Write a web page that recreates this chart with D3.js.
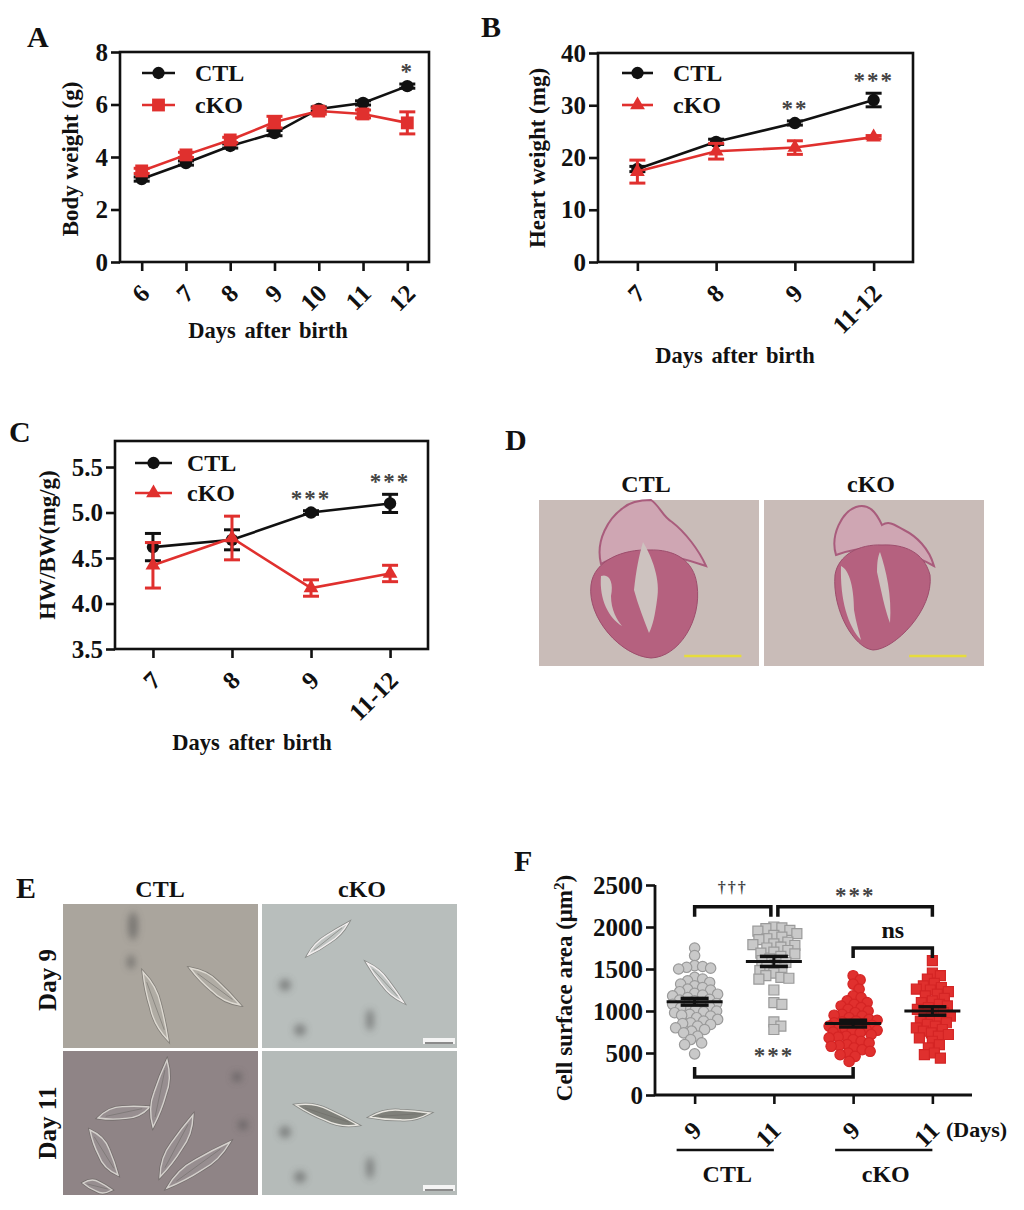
<!DOCTYPE html>
<html>
<head>
<meta charset="utf-8">
<script src="https://cdn.jsdelivr.net/npm/d3@7"></script>
<style>
body { margin: 0; background: #fff; }
text { font-family: "Liberation Serif", "Times New Roman", serif; font-weight: bold; fill: #111; }
</style>
</head>
<body>
<svg id="fig" width="1024" height="1210"></svg>
<script>
const svg = d3.select("#fig");
const INK = "#111";
const RED = "#e0302e";

// ---- A: body weight ----
const daysA = ["6", "7", "8", "9", "10", "11", "12"];
const bodyCtl = [3.16, 3.77, 4.42, 4.91, 5.83, 6.06, 6.70];
const bodyCtlErr = [0.08, 0.08, 0.08, 0.1, 0.08, 0.08, 0.08];
const bodyKo = [3.47, 4.08, 4.65, 5.33, 5.75, 5.64, 5.30];
const bodyKoErr = [0.1, 0.1, 0.1, 0.22, 0.12, 0.15, 0.42];
const starsA = ["", "", "", "", "", "", "*"];

// ---- B: heart weight ----
const daysBC = ["7", "8", "9", "11-12"];
const heartCtl = [17.8, 23.0, 26.6, 31.0];
const heartCtlErr = [0.5, 0.5, 0.4, 1.3];
const heartKo = [17.3, 21.2, 21.9, 23.9];
const heartKoErr = [2.2, 1.5, 1.3, 0.3];
const starsB = ["", "", "**", "***"];

// ---- C: HW/BW ----
const ratioCtl = [4.62, 4.70, 5.00, 5.10];
const ratioCtlErr = [0.15, 0.11, 0.02, 0.10];
const ratioKo = [4.42, 4.72, 4.17, 4.33];
const ratioKoErr = [0.25, 0.24, 0.09, 0.09];
const starsC = ["", "", "***", "***"];

// ---- F: cell surface area ----
const groups = ["CTL 9", "CTL 11", "cKO 9", "cKO 11"];
const groupTicks = ["9", "11", "9", "11"];
const areaCtl9 = [1750, 1660, 1540, 1530, 1520, 1510, 1500, 1400, 1380, 1360, 1340, 1320, 1300, 1280,
  1260, 1250, 1230, 1210, 1200, 1190, 1180, 1160, 1140, 1130, 1120, 1100, 1090, 1080, 1060, 1050,
  1040, 1020, 1000, 990, 980, 960, 950, 940, 920, 900, 880, 860, 850, 840, 820, 800, 780, 760, 740,
  700, 660, 620, 600, 490];
const areaCtl11 = [2000, 1990, 1980, 1960, 1950, 1920, 1900, 1880, 1860, 1850, 1820, 1800, 1790,
  1780, 1760, 1750, 1720, 1700, 1690, 1680, 1650, 1620, 1600, 1580, 1550, 1520, 1500, 1480, 1450,
  1420, 1400, 1390, 1380, 1250, 1100, 1080, 870, 820, 780];
const areaKo9 = [1420, 1370, 1320, 1260, 1180, 1160, 1120, 1100, 1080, 1060, 1040, 1020, 1000, 980,
  960, 950, 940, 920, 900, 890, 880, 870, 860, 850, 840, 830, 820, 810, 800, 790, 780, 770, 760, 750,
  740, 720, 700, 690, 680, 660, 640, 620, 600, 590, 580, 560, 540, 520, 500, 480, 460, 400];
const areaKo11 = [1600, 1450, 1420, 1380, 1330, 1300, 1280, 1260, 1250, 1230, 1200, 1180, 1150, 1120,
  1100, 1080, 1060, 1040, 1020, 1000, 980, 960, 940, 920, 900, 880, 860, 840, 820, 800, 780, 760, 740,
  720, 700, 680, 640, 600, 560, 500, 480, 440];
const areaMean = [1110, 1590, 850, 1000];
const areaSem = [40, 60, 40, 50];

// ---------------------------------------------------------------
svg.append("defs").append("filter").attr("id", "blur")
  .attr("x", "-150%").attr("y", "-150%").attr("width", "400%").attr("height", "400%")
  .append("feGaussianBlur").attr("stdDeviation", 3.5);

function panelLetter(letter, x, y) {
  svg.append("text").attr("x", x).attr("y", y).attr("font-size", 30).text(letter);
}

function styleAxis(a) {
  a.select(".domain").remove();
  a.selectAll("line").attr("stroke", INK).attr("stroke-width", 2.6);
  a.selectAll("text").attr("font-size", 25).attr("fill", INK);
}

function lineChart(c) {
  const g = svg.append("g");
  const x = d3.scalePoint().domain(c.days).range([c.left, c.right]).padding(c.pad);
  const y = d3.scaleLinear().domain(c.yDomain).range([c.bottom, c.top]);

  const ya = g.append("g").attr("transform", `translate(${c.left},0)`)
    .call(d3.axisLeft(y).tickValues(c.yTicks).tickSize(9).tickPadding(3).tickFormat(c.yFormat));
  const xa = g.append("g").attr("transform", `translate(0,${c.bottom})`)
    .call(d3.axisBottom(x).tickSize(9).tickSizeOuter(0));
  styleAxis(ya);
  styleAxis(xa);
  xa.selectAll("text")
    .attr("y", null).attr("dy", null)
    .attr("text-anchor", "end")
    .attr("transform", "translate(9,33) rotate(-45)");

  g.append("rect")
    .attr("x", c.left).attr("y", c.top)
    .attr("width", c.right - c.left).attr("height", c.bottom - c.top)
    .attr("fill", "none").attr("stroke", INK).attr("stroke-width", 2.6);

  c.series.forEach(s => {
    const pts = c.days.map((d, i) => ({ d, v: s.values[i], e: s.errors[i] }));
    g.append("path").datum(pts)
      .attr("d", d3.line().x(p => x(p.d)).y(p => y(p.v)))
      .attr("fill", "none").attr("stroke", s.color).attr("stroke-width", 2.6);
    const eb = g.append("g").attr("stroke", s.color).attr("stroke-width", 3)
      .selectAll("g").data(pts).join("g");
    eb.append("line")
      .attr("x1", p => x(p.d)).attr("x2", p => x(p.d))
      .attr("y1", p => y(p.v - p.e)).attr("y2", p => y(p.v + p.e));
    [-1, 1].forEach(sign => {
      eb.append("line")
        .attr("x1", p => x(p.d) - 8).attr("x2", p => x(p.d) + 8)
        .attr("y1", p => y(p.v + sign * p.e)).attr("y2", p => y(p.v + sign * p.e));
    });
    g.append("g").selectAll("path").data(pts).join("path")
      .attr("d", d3.symbol(s.shape, s.size))
      .attr("transform", p => `translate(${x(p.d)},${y(p.v)})`)
      .attr("fill", s.color);
  });

  // significance stars above the CTL point
  const ctl = c.series[0];
  g.append("g").selectAll("text").data(c.stars).join("text")
    .attr("x", (t, i) => x(c.days[i]))
    .attr("y", (t, i) => y(ctl.values[i] + ctl.errors[i]) - 5)
    .attr("text-anchor", "middle")
    .attr("font-size", 23).attr("font-weight", "normal")
    .attr("letter-spacing", 2).style("fill", "#444")
    .text(t => t);

  // legend
  c.series.forEach((s, i) => {
    const ly = c.legendY[i];
    const lg = g.append("g");
    lg.append("line").attr("x1", c.legendX[0]).attr("x2", c.legendX[1])
      .attr("y1", ly).attr("y2", ly).attr("stroke", s.color).attr("stroke-width", 2.6);
    lg.append("path").attr("d", d3.symbol(s.shape, s.size))
      .attr("transform", `translate(${(c.legendX[0] + c.legendX[1]) / 2},${ly})`)
      .attr("fill", s.color);
    lg.append("text").attr("x", c.legendX[2]).attr("y", ly + 8)
      .attr("font-size", 24).text(s.name);
  });

  g.append("text")
    .attr("transform", `translate(${c.yLabel[0]},${c.yLabel[1]}) rotate(-90)`)
    .attr("text-anchor", "middle").attr("font-size", 23).text(c.yTitle);
  g.append("text")
    .attr("x", c.xLabel[0]).attr("y", c.xLabel[1])
    .attr("text-anchor", "middle").attr("font-size", 22.5).attr("word-spacing", 3)
    .text("Days after birth");
}

lineChart({
  days: daysA, left: 120, right: 429, top: 52, bottom: 262, pad: 0.49,
  yDomain: [0, 8], yTicks: [0, 2, 4, 6, 8], yFormat: d3.format("d"),
  series: [
    { name: "CTL", values: bodyCtl, errors: bodyCtlErr, color: INK, shape: d3.symbolCircle, size: 120 },
    { name: "cKO", values: bodyKo, errors: bodyKoErr, color: RED, shape: d3.symbolSquare, size: 165 }
  ],
  stars: starsA, legendX: [142, 175, 195], legendY: [73, 105],
  yTitle: "Body weight (g)", yLabel: [78, 159], xLabel: [268, 338]
});

lineChart({
  days: daysBC, left: 598, right: 913, top: 53, bottom: 262, pad: 0.5,
  yDomain: [0, 40], yTicks: [0, 10, 20, 30, 40], yFormat: d3.format("d"),
  series: [
    { name: "CTL", values: heartCtl, errors: heartCtlErr, color: INK, shape: d3.symbolCircle, size: 120 },
    { name: "cKO", values: heartKo, errors: heartKoErr, color: RED, shape: d3.symbolTriangle, size: 95 }
  ],
  stars: starsB, legendX: [622, 653, 673], legendY: [73, 105],
  yTitle: "Heart weight (mg)", yLabel: [545, 158], xLabel: [735, 363]
});

lineChart({
  days: daysBC, left: 115, right: 428, top: 441, bottom: 649, pad: 0.48,
  yDomain: [3.5, 5.786], yTicks: [3.5, 4.0, 4.5, 5.0, 5.5], yFormat: d3.format(".1f"),
  series: [
    { name: "CTL", values: ratioCtl, errors: ratioCtlErr, color: INK, shape: d3.symbolCircle, size: 120 },
    { name: "cKO", values: ratioKo, errors: ratioKoErr, color: RED, shape: d3.symbolTriangle, size: 95 }
  ],
  stars: starsC, legendX: [135, 172, 187], legendY: [463, 493],
  yTitle: "HW/BW(mg/g)", yLabel: [55, 545], xLabel: [252, 750]
});

panelLetter("A", 27, 47);
panelLetter("B", 481, 37);
panelLetter("C", 9, 442);

// ---- D: heart sections ----
const heartPanels = [
  { label: "CTL", x: 539, outer: "M52,85 C48,118 82,156 112,158 C140,157 163,120 158,85 C155,60 135,49 110,50 C85,49 55,60 52,85 Z",
    atria: "M62,64 C56,40 70,18 84,8 C92,1 102,0 112,0 C121,6 123,16 133,22 C146,32 160,50 167,66 C150,60 130,55 110,53 C90,53 72,58 62,64 Z",
    holes: ["M104,42 C113,57 122,80 118,100 C116,115 114,125 110,133 C105,120 99,105 95,90 C97,70 100,56 104,42 Z",
      "M62,76 C70,73 75,82 72,96 C72,110 78,120 83,126 C70,118 60,100 62,76 Z"] },
  { label: "cKO", x: 764, outer: "M71,75 C68,110 90,148 109,150 C130,150 170,110 166,75 C160,52 140,44 118,45 C95,44 74,55 71,75 Z",
    atria: "M72,55 C66,35 78,12 92,7 C105,3 112,12 118,25 C126,20 132,26 140,30 C152,36 165,48 170,66 C150,55 130,48 112,48 C95,48 80,52 72,55 Z",
    holes: ["M116,52 C122,70 128,95 126,123 C121,110 117,90 113,72 C113,62 114,56 116,52 Z",
      "M77,66 C86,70 90,90 90,110 C92,122 95,132 97,140 C84,126 76,100 77,66 Z"] }
];
const dTop = 500, dW = 220, dH = 166;
heartPanels.forEach(p => {
  const g = svg.append("g").attr("transform", `translate(${p.x},${dTop})`);
  g.append("rect").attr("width", dW).attr("height", dH).attr("fill", "#c9bcb8");
  g.append("path").attr("d", p.atria).attr("fill", "#cfa6b3").attr("stroke", "#a95c7c").attr("stroke-width", 2);
  g.append("path").attr("d", p.outer).attr("fill", "#b5617f").attr("stroke", "#9d4d6c").attr("stroke-width", 1);
  p.holes.forEach(h => g.append("path").attr("d", h).attr("fill", "#cdc2bf"));
  g.append("line").attr("x1", dW * 0.66).attr("x2", dW * 0.92).attr("y1", dH * 0.94).attr("y2", dH * 0.94)
    .attr("stroke", "#e6dc3c").attr("stroke-width", 2.5);
  svg.append("text").attr("x", p.x + dW / 2 - 3).attr("y", 492).attr("text-anchor", "middle")
    .attr("font-size", 24).text(p.label);
});
panelLetter("D", 505, 450);

// ---- E: isolated cardiomyocytes ----
const cellPanels = [
  { x: 63, y: 904, bg: "#aaa59d", fill: "#b0aca4", edge: "#dedad2",
    cells: [[80, 68, 105, 136, 9], [127, 64, 177, 101, 9]], spots: [[70, 22, 5, 14], [68, 58, 4, 7]], bar: false },
  { x: 262, y: 904, bg: "#b8bebc", fill: "#c0c4c2", edge: "#f2eeee",
    cells: [[46, 51, 86, 19, 6], [105, 59, 141, 98, 6]], spots: [[23, 81, 6, 6], [108, 116, 4, 11], [38, 126, 6, 6]], bar: true },
  { x: 63, y: 1051, bg: "#8f8486", fill: "#978e90", edge: "#d4d0cc",
    cells: [[27, 79, 55, 124, 10], [35, 67, 87, 56, 10], [90, 76, 104, 9, 10], [97, 126, 130, 64, 10],
      [104, 137, 167, 91, 10], [20, 132, 49, 139, 8]], spots: [[174, 26, 5, 5], [180, 74, 5, 5]], bar: false },
  { x: 262, y: 1051, bg: "#b5bbb9", fill: "#7f807a", edge: "#e8e6e0",
    cells: [[34, 54, 96, 74, 9], [108, 66, 168, 62, 8]], spots: [[23, 81, 6, 6], [108, 117, 4, 11], [38, 126, 6, 6]], bar: true }
];
const eW = 195, eH = 144;
cellPanels.forEach(p => {
  const g = svg.append("g").attr("transform", `translate(${p.x},${p.y})`);
  g.append("rect").attr("width", eW).attr("height", eH).attr("fill", p.bg);
  p.spots.forEach(s => g.append("ellipse").attr("cx", s[0]).attr("cy", s[1]).attr("rx", s[2]).attr("ry", s[3])
    .attr("fill", "#4a4a4a").attr("opacity", 0.5).attr("filter", "url(#blur)"));
  p.cells.forEach(c => {
    const len = Math.hypot(c[2] - c[0], c[3] - c[1]);
    const ang = Math.atan2(c[3] - c[1], c[2] - c[0]) * 180 / Math.PI;
    const w = c[4];
    const tr = `translate(${(c[0] + c[2]) / 2},${(c[1] + c[3]) / 2}) rotate(${ang})`;
    const d = `M${-len / 2},0 Q${-len / 4},${-w * 0.9} 0,${-w * 0.6} Q${len / 4},${-w * 0.4} ${len / 2},0 Q${len / 4},${w * 0.9} 0,${w * 0.6} Q${-len / 4},${w * 0.5} ${-len / 2},0 Z`;
    g.append("path").attr("d", d).attr("transform", tr)
      .attr("fill", "none").attr("stroke", "#5a5854").attr("stroke-width", 3).attr("opacity", 0.5);
    g.append("path").attr("d", d).attr("transform", tr)
      .attr("fill", p.fill).attr("stroke", p.edge).attr("stroke-width", 1.4);
    g.append("line")
      .attr("x1", -len * 0.35).attr("x2", len * 0.35).attr("y1", 0).attr("y2", 0)
      .attr("transform", tr)
      .attr("stroke", "#6c6a66").attr("stroke-width", 0.8).attr("opacity", 0.6);
  });
  if (p.bar) {
    g.append("rect").attr("x", eW - 34).attr("y", eH - 10).attr("width", 32).attr("height", 6).attr("fill", "#f4f4f4");
    g.append("line").attr("x1", eW - 32).attr("x2", eW - 4).attr("y1", eH - 5).attr("y2", eH - 5)
      .attr("stroke", "#222").attr("stroke-width", 1);
  }
});
svg.append("text").attr("x", 160).attr("y", 897).attr("text-anchor", "middle").attr("font-size", 24).text("CTL");
svg.append("text").attr("x", 362).attr("y", 897).attr("text-anchor", "middle").attr("font-size", 24).text("cKO");
svg.append("text").attr("transform", "translate(56,980) rotate(-90)").attr("text-anchor", "middle")
  .attr("font-size", 25).text("Day 9");
svg.append("text").attr("transform", "translate(56,1123) rotate(-90)").attr("text-anchor", "middle")
  .attr("font-size", 25).text("Day 11");
panelLetter("E", 16, 898);

// ---- F: cell surface area scatter ----
const fL = 655, fR = 972, fT = 885, fB = 1095;
const xF = d3.scalePoint().domain(groups).range([fL, fR]).padding(0.5);
const yF = d3.scaleLinear().domain([0, 2500]).range([fB, fT]);
const fg = svg.append("g");

const yaF = fg.append("g").attr("transform", `translate(${fL},0)`)
  .call(d3.axisLeft(yF).tickValues([0, 500, 1000, 1500, 2000, 2500]).tickSize(9).tickPadding(3).tickFormat(d3.format("d")));
styleAxis(yaF);
const xaF = fg.append("g").attr("transform", `translate(0,${fB})`)
  .call(d3.axisBottom(xF).tickSize(9).tickSizeOuter(0).tickFormat((d, i) => groupTicks[i]));
styleAxis(xaF);
xaF.selectAll("text").attr("y", null).attr("dy", null).attr("text-anchor", "end")
  .attr("transform", "translate(8,37) rotate(-45)");
fg.append("line").attr("x1", fL).attr("x2", fL).attr("y1", fT).attr("y2", fB).attr("stroke", INK).attr("stroke-width", 2.8);
fg.append("line").attr("x1", fL).attr("x2", fR).attr("y1", fB).attr("y2", fB).attr("stroke", INK).attr("stroke-width", 2.8);

// simple beeswarm: offset each point sideways until it stops overlapping
function swarm(values, minDist, maxOff) {
  const placed = [];
  values.map(v => ({ v, y: yF(v) })).sort((a, b) => a.y - b.y).forEach(p => {
    let best = 0, bestD = -1;
    for (let k = 0; k <= maxOff * 2; k++) {
      const off = (k % 2 ? 1 : -1) * Math.ceil(k / 2);
      const dmin = d3.min(placed, q => Math.hypot(q.dx - off, q.y - p.y)) ?? Infinity;
      if (dmin >= minDist) { best = off; bestD = dmin; break; }
      if (dmin > bestD) { best = off; bestD = dmin; }
    }
    placed.push({ v: p.v, y: p.y, dx: best });
  });
  return placed;
}

const scatterSets = [
  { data: areaCtl9, shape: d3.symbolCircle, size: 85, fill: "#c9c9c9", stroke: "#9a9a9a" },
  { data: areaCtl11, shape: d3.symbolSquare, size: 100, fill: "#c9c9c9", stroke: "#9a9a9a" },
  { data: areaKo9, shape: d3.symbolCircle, size: 85, fill: RED, stroke: "#d42424" },
  { data: areaKo11, shape: d3.symbolSquare, size: 100, fill: RED, stroke: "#d42424" }
];
scatterSets.forEach((s, i) => {
  const cx = xF(groups[i]);
  fg.append("g").selectAll("path").data(swarm(s.data, 7.5, 24)).join("path")
    .attr("d", d3.symbol(s.shape, s.size))
    .attr("transform", p => `translate(${cx + p.dx},${p.y})`)
    .attr("fill", s.fill).attr("stroke", s.stroke).attr("stroke-width", 1.2);
});

// mean +/- SEM
const ms = fg.append("g").attr("stroke", INK).selectAll("g").data(groups).join("g");
ms.append("line").attr("x1", d => xF(d) - 28).attr("x2", d => xF(d) + 28)
  .attr("y1", (d, i) => yF(areaMean[i])).attr("y2", (d, i) => yF(areaMean[i])).attr("stroke-width", 3);
ms.append("line").attr("x1", d => xF(d)).attr("x2", d => xF(d))
  .attr("y1", (d, i) => yF(areaMean[i] - areaSem[i])).attr("y2", (d, i) => yF(areaMean[i] + areaSem[i]))
  .attr("stroke-width", 3);
[-1, 1].forEach(sign => {
  ms.append("line").attr("x1", d => xF(d) - 14).attr("x2", d => xF(d) + 14)
    .attr("y1", (d, i) => yF(areaMean[i] + sign * areaSem[i])).attr("y2", (d, i) => yF(areaMean[i] + sign * areaSem[i]))
    .attr("stroke-width", 3.5);
});

// comparison brackets
const brackets = [
  { a: "CTL 9", b: "CTL 11", level: 2240, dir: 1, gapA: 0, gapB: -3, label: "†††", size: 16, ly: -14 },
  { a: "CTL 11", b: "cKO 11", level: 2240, dir: 1, gapA: 4, gapB: 0, label: "***", size: 23, ly: -4 },
  { a: "cKO 9", b: "cKO 11", level: 1750, dir: 1, gapA: 0, gapB: 0, label: "ns", size: 24, ly: -10, bold: true },
  { a: "CTL 9", b: "cKO 9", level: 215, dir: -1, gapA: 0, gapB: 0, label: "***", size: 23, ly: -4 }
];
brackets.forEach(b => {
  const x1 = xF(b.a) + b.gapA, x2 = xF(b.b) + b.gapB, yy = yF(b.level);
  fg.append("path")
    .attr("d", `M${x1},${yy + 10 * b.dir} L${x1},${yy} L${x2},${yy} L${x2},${yy + 10 * b.dir}`)
    .attr("fill", "none").attr("stroke", INK).attr("stroke-width", 3.5);
  const t = fg.append("text").attr("x", (x1 + x2) / 2).attr("text-anchor", "middle")
    .attr("y", (b.dir > 0 ? yy : yy - 10) + b.ly)
    .attr("font-size", b.size).text(b.label);
  if (!b.bold) t.attr("font-weight", "normal").attr("letter-spacing", 2).style("fill", "#444");
});

fg.append("text").attr("x", 946).attr("y", 1137).attr("font-size", 22).text("(Days)");
[["CTL 9", "CTL 11", "CTL"], ["cKO 9", "cKO 11", "cKO"]].forEach(([a, b, name]) => {
  fg.append("line").attr("x1", xF(a) - 18).attr("x2", xF(b)).attr("y1", 1150).attr("y2", 1150)
    .attr("stroke", INK).attr("stroke-width", 2.6);
  fg.append("text").attr("x", (xF(a) - 18 + xF(b)) / 2 + 2).attr("y", 1182).attr("text-anchor", "middle")
    .attr("font-size", 24).text(name);
});
const yTitleF = fg.append("text").attr("transform", "translate(572,988) rotate(-90)")
  .attr("text-anchor", "middle").attr("font-size", 23);
yTitleF.append("tspan").text("Cell surface area (μm");
yTitleF.append("tspan").attr("baseline-shift", "super").attr("font-size", 15).text("2");
yTitleF.append("tspan").text(")");
panelLetter("F", 514, 871);
</script>
</body>
</html>
